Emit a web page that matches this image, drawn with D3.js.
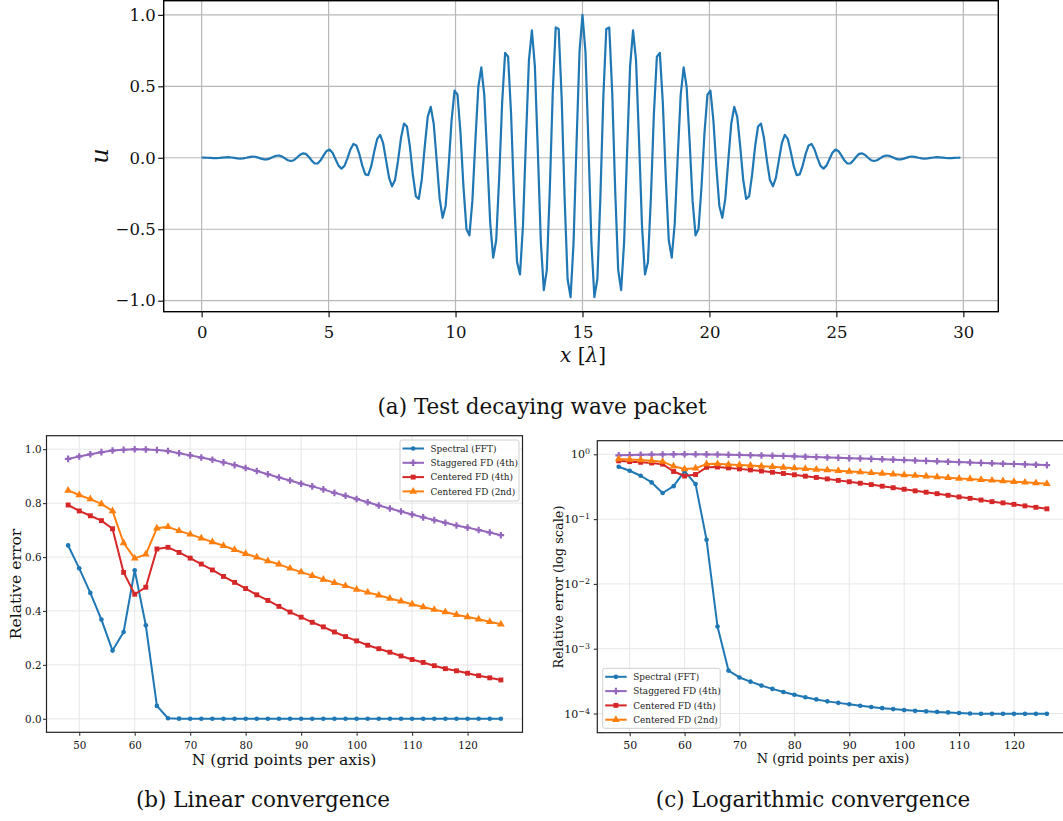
<!DOCTYPE html>
<html>
<head>
<meta charset="utf-8">
<script src="https://cdn.jsdelivr.net/npm/d3@7"></script>
<style>
  body { margin: 0; background: #fff; }
  svg { display: block; font-family: "DejaVu Serif", serif; }
</style>
</head>
<body>
<svg id="fig" width="1063" height="821"></svg>
<script>
// ---------- data: (a) wave packet, 256 samples on a uniform grid ----------
const waveDx = 30 / 256;
const waveU = [
  0.002, 0.001, 0.000, -0.001, -0.002, -0.002, -0.001, 0.001, 0.003, 0.004,
  0.002, -0.001, -0.004, -0.006, -0.004, 0.000, 0.005, 0.008, 0.007, 0.001,
  -0.006, -0.011, -0.011, -0.004, 0.006, 0.014, 0.016, 0.009, -0.004, -0.017,
  -0.023, -0.017, 0.000, 0.019, 0.031, 0.027, 0.007, -0.020, -0.040, -0.040,
  -0.018, 0.017, 0.048, 0.057, 0.035, -0.010, -0.055, -0.076, -0.057, -0.004,
  0.058, 0.097, 0.086, 0.027, -0.055, -0.116, -0.121, -0.059, 0.042, 0.132,
  0.160, 0.102, -0.018, -0.141, -0.200, -0.156, -0.022, 0.138, 0.239, 0.219,
  0.077, -0.120, -0.270, -0.287, -0.150, 0.081, 0.288, 0.356, 0.238, -0.019,
  -0.286, -0.420, -0.337, -0.066, 0.260, 0.470, 0.441, 0.174, -0.204, -0.498,
  -0.543, -0.300, 0.117, 0.497, 0.632, 0.438, 0.000, -0.461, -0.699, -0.577,
  -0.143, 0.386, 0.734, 0.707, 0.306, -0.274, -0.729, -0.816, -0.475, 0.128,
  0.681, 0.892, 0.639, 0.045, -0.587, -0.926, -0.786, -0.232, 0.453, 0.912,
  0.901, 0.420, -0.286, -0.850, -0.975, -0.594, 0.098, 0.741, 1.000,
  0.741, 0.098, -0.594, -0.975, -0.850, -0.286, 0.420, 0.901, 0.912, 0.453,
  -0.232, -0.786, -0.926, -0.587, 0.045, 0.639, 0.892, 0.681, 0.128, -0.475,
  -0.816, -0.729, -0.274, 0.306, 0.707, 0.734, 0.386, -0.143, -0.577, -0.699,
  -0.461, 0.000, 0.438, 0.632, 0.497, 0.117, -0.300, -0.543, -0.498, -0.204,
  0.174, 0.441, 0.470, 0.260, -0.066, -0.337, -0.420, -0.286, -0.019, 0.238,
  0.356, 0.288, 0.081, -0.150, -0.287, -0.270, -0.120, 0.077, 0.219, 0.239,
  0.138, -0.022, -0.156, -0.200, -0.141, -0.018, 0.102, 0.160, 0.132, 0.042,
  -0.059, -0.121, -0.116, -0.055, 0.027, 0.086, 0.097, 0.058, -0.004, -0.057,
  -0.076, -0.055, -0.010, 0.035, 0.057, 0.048, 0.017, -0.018, -0.040, -0.040,
  -0.020, 0.007, 0.027, 0.031, 0.019, 0.000, -0.017, -0.023, -0.017, -0.004,
  0.009, 0.016, 0.014, 0.006, -0.004, -0.011, -0.011, -0.006, 0.001, 0.007,
  0.008, 0.005, 0.000, -0.004, -0.006, -0.004, -0.001, 0.002, 0.004, 0.003,
  0.001, -0.001, -0.002, -0.002, -0.001, 0.000, 0.001
];
const waveXTicks = [0, 5, 10, 15, 20, 25, 30];
const waveYTicks = [-1, -0.5, 0, 0.5, 1];

// ---------- data: (b)/(c) convergence ----------
const gridN = [48, 50, 52, 54, 56, 58, 60, 62, 64, 66, 68, 70, 72, 74, 76, 78, 80, 82, 84, 86,
               88, 90, 92, 94, 96, 98, 100, 102, 104, 106, 108, 110, 112, 114, 116, 118, 120, 122, 124, 126];
const errSpectral = [0.643, 0.558, 0.467, 0.368, 0.253, 0.322, 0.551, 0.347, 0.048, 0.0022,
  4.6e-4, 3.6e-4, 3.1e-4, 2.7e-4, 2.4e-4, 2.15e-4, 1.95e-4, 1.78e-4, 1.65e-4, 1.54e-4,
  1.46e-4, 1.39e-4, 1.32e-4, 1.26e-4, 1.21e-4, 1.17e-4, 1.13e-4, 1.10e-4, 1.08e-4, 1.06e-4,
  1.04e-4, 1.02e-4, 1.0e-4, 0.99e-4, 0.99e-4, 0.99e-4, 0.99e-4, 0.99e-4, 0.99e-4, 0.99e-4];
const errStaggered4 = [0.964, 0.973, 0.981, 0.989, 0.995, 0.998, 1.000, 0.999, 0.997, 0.993,
  0.985, 0.977, 0.969, 0.961, 0.951, 0.941, 0.930, 0.919, 0.907, 0.895,
  0.884, 0.872, 0.862, 0.851, 0.838, 0.827, 0.815, 0.803, 0.791, 0.780,
  0.769, 0.758, 0.747, 0.737, 0.727, 0.717, 0.709, 0.700, 0.691, 0.681];
const errCentered4 = [0.793, 0.771, 0.753, 0.735, 0.705, 0.543, 0.462, 0.488, 0.630, 0.636,
  0.617, 0.596, 0.574, 0.552, 0.528, 0.506, 0.483, 0.460, 0.439, 0.417,
  0.396, 0.377, 0.358, 0.341, 0.322, 0.305, 0.289, 0.273, 0.260, 0.247,
  0.233, 0.220, 0.209, 0.197, 0.186, 0.178, 0.169, 0.160, 0.152, 0.144];
const errCentered2 = [0.847, 0.830, 0.815, 0.797, 0.771, 0.652, 0.595, 0.610, 0.707, 0.712,
  0.697, 0.684, 0.670, 0.656, 0.642, 0.627, 0.612, 0.599, 0.585, 0.573,
  0.558, 0.544, 0.531, 0.517, 0.505, 0.493, 0.480, 0.469, 0.458, 0.446,
  0.436, 0.425, 0.415, 0.405, 0.396, 0.386, 0.378, 0.369, 0.360, 0.351];
const seriesNames = ["Spectral (FFT)", "Staggered FD (4th)", "Centered FD (4th)", "Centered FD (2nd)"];
const nTicks = [50, 60, 70, 80, 90, 100, 110, 120];
const linTicks = [0, 0.2, 0.4, 0.6, 0.8, 1.0];
const logTicks = [1e-4, 1e-3, 1e-2, 1e-1, 1];

// styles
const seriesStyle = [
  { color: "#1f77b4", symbol: d3.symbolCircle, size: 17 },
  { color: "#9467bd", symbol: d3.symbolCross, size: 24 },
  { color: "#d62728", symbol: d3.symbolSquare, size: 24 },
  { color: "#ff7f0e", symbol: d3.symbolTriangle, size: 26 }
];
const series = [errSpectral, errStaggered4, errCentered4, errCentered2].map((vals, k) => ({
  name: seriesNames[k], values: vals, ...seriesStyle[k]
}));

const svg = d3.select("#fig");
svg.append("rect").attr("width", 1063).attr("height", 821).attr("fill", "#fff");

function styleAxis(ax, size, color) {
  ax.attr("font-size", null).attr("font-family", null);
  ax.select(".domain").remove();
  ax.selectAll(".tick line").attr("stroke", color).attr("stroke-width", 1.1);
  ax.selectAll(".tick text").attr("fill", "#111").attr("font-size", size);
}

// ================= (a) wave packet =================
(function () {
  const b = { left: 163.7, right: 998.3, top: 0.7, bottom: 311.7 };
  const x = d3.scaleLinear().domain([-1.494, 31.377]).range([b.left, b.right]);
  const y = d3.scaleLinear().domain([-1.077, 1.099]).range([b.bottom, b.top]);
  const g = svg.append("g");

  g.selectAll(".gx").data(waveXTicks).join("line")
    .attr("x1", d => x(d)).attr("x2", d => x(d)).attr("y1", b.top).attr("y2", b.bottom)
    .attr("stroke", "#b8b8b8").attr("stroke-width", 1.2);
  g.selectAll(".gy").data(waveYTicks).join("line")
    .attr("x1", b.left).attr("x2", b.right).attr("y1", d => y(d)).attr("y2", d => y(d))
    .attr("stroke", "#b8b8b8").attr("stroke-width", 1.2);

  g.append("path").datum(waveU)
    .attr("d", d3.line().x((d, i) => x(i * waveDx)).y(d => y(d)))
    .attr("fill", "none").attr("stroke", "#1f77b4").attr("stroke-width", 2.2)
    .attr("stroke-linejoin", "round");

  g.append("rect").attr("x", b.left).attr("y", b.top)
    .attr("width", b.right - b.left).attr("height", b.bottom - b.top)
    .attr("fill", "none").attr("stroke", "#000").attr("stroke-width", 1.4);

  g.append("g").attr("transform", `translate(0,${b.bottom})`)
    .call(d3.axisBottom(x).tickValues(waveXTicks).tickSize(5.5).tickPadding(8.8).tickFormat(d3.format("d")))
    .call(ax => styleAxis(ax, 16.5, "#000"));
  g.append("g").attr("transform", `translate(${b.left},0)`)
    .call(d3.axisLeft(y).tickValues(waveYTicks).tickSize(5.5).tickPadding(2.5).tickFormat(d3.format(".1f")))
    .call(ax => styleAxis(ax, 16.5, "#000"));

  const xl = g.append("text").attr("x", 583).attr("y", 362).attr("text-anchor", "middle")
    .attr("font-size", 20).attr("fill", "#111");
  xl.append("tspan").attr("font-style", "italic").text("x");
  xl.append("tspan").text(" [");
  xl.append("tspan").attr("font-style", "italic").text("λ");
  xl.append("tspan").text("]");

  g.append("text").attr("transform", "translate(108,156) rotate(-90)").attr("text-anchor", "middle")
    .attr("font-size", 24).attr("font-style", "italic").attr("fill", "#111").text("u");

  g.append("text").attr("x", 542).attr("y", 414).attr("text-anchor", "middle")
    .attr("font-size", 21.5).attr("fill", "#111").text("(a) Test decaying wave packet");
})();

// ================= (b)/(c) convergence =================
function drawConvergence(opt) {
  const b = opt.box;
  const x = d3.scaleLinear().domain([44.1, 129.9]).range([b.left, b.right]);
  const y = opt.y;
  const g = svg.append("g");

  g.selectAll(".gx").data(nTicks).join("line")
    .attr("x1", d => x(d)).attr("x2", d => x(d)).attr("y1", b.top).attr("y2", b.bottom)
    .attr("stroke", "#e6e6e6").attr("stroke-width", 1);
  g.selectAll(".gy").data(opt.yTicks).join("line")
    .attr("x1", b.left).attr("x2", b.right).attr("y1", d => y(d)).attr("y2", d => y(d))
    .attr("stroke", "#e6e6e6").attr("stroke-width", 1);

  const line = d3.line().x((d, i) => x(gridN[i])).y(d => y(d));
  series.forEach(s => {
    g.append("path").datum(s.values).attr("d", line)
      .attr("fill", "none").attr("stroke", s.color).attr("stroke-width", 2)
      .attr("stroke-linejoin", "round");
    g.selectAll(null).data(s.values).join("path")
      .attr("transform", (d, i) => `translate(${x(gridN[i])},${y(d)})`)
      .attr("d", d3.symbol().type(s.symbol).size(s.size))
      .attr("fill", s.color);
  });

  g.append("rect").attr("x", b.left).attr("y", b.top)
    .attr("width", b.right - b.left).attr("height", b.bottom - b.top)
    .attr("fill", "none").attr("stroke", "#222").attr("stroke-width", 1.2);

  g.append("g").attr("transform", `translate(0,${b.bottom})`)
    .call(d3.axisBottom(x).tickValues(nTicks).tickSize(3.5).tickPadding(opt.xPad).tickFormat(d3.format("d")))
    .call(ax => styleAxis(ax, opt.tickFont, "#333"));

  const yAx = g.append("g").attr("transform", `translate(${b.left},0)`)
    .call(d3.axisLeft(y).tickValues(opt.yTicks).tickSize(3.5).tickPadding(opt.yPad)
      .tickFormat(opt.log ? () => "" : d3.format(".1f")))
    .call(ax => styleAxis(ax, opt.tickFont, "#333"));
  if (opt.log) {
    yAx.selectAll(".tick text").each(function (d) {
      const t = d3.select(this);
      const e = Math.round(Math.log10(d));
      t.append("tspan").text("10");
      t.append("tspan").attr("dy", "-0.5em").attr("font-size", "0.72em")
        .text(e < 0 ? "\u2212" + (-e) : String(e));
    });
  }

  g.append("text").attr("x", opt.xLabel[0]).attr("y", opt.xLabel[1]).attr("text-anchor", "middle")
    .attr("font-size", opt.labelFont).attr("fill", "#111").text("N (grid points per axis)");
  g.append("text").attr("transform", `translate(${opt.yLabel[0]},${opt.yLabel[1]}) rotate(-90)`)
    .attr("text-anchor", "middle").attr("font-size", opt.labelFont).attr("fill", "#111").text(opt.yText);

  // legend
  const L = opt.legend;
  const lg = g.append("g");
  lg.append("rect").attr("x", L.x).attr("y", L.y).attr("width", L.w).attr("height", L.h)
    .attr("rx", 2).attr("fill", "#fff").attr("fill-opacity", 0.85)
    .attr("stroke", "#d0d0d0").attr("stroke-width", 1);
  series.forEach((s, k) => {
    const yy = L.y + 8.5 + k * 14.3;
    lg.append("line").attr("x1", L.x + 2.5).attr("x2", L.x + 24).attr("y1", yy).attr("y2", yy)
      .attr("stroke", s.color).attr("stroke-width", 2);
    lg.append("path").attr("transform", `translate(${L.x + 13.2},${yy})`)
      .attr("d", d3.symbol().type(s.symbol).size(s.size)).attr("fill", s.color);
    lg.append("text").attr("x", L.x + 30.5).attr("y", yy).attr("dy", "0.35em")
      .attr("font-size", 8.9).attr("fill", "#222").text(s.name);
  });

  g.append("text").attr("x", opt.caption[0]).attr("y", opt.caption[1]).attr("text-anchor", "middle")
    .attr("font-size", 21.5).attr("fill", "#111").text(opt.captionText);
}

const linBox = { left: 46.5, right: 522.5, top: 435.7, bottom: 732.3 };
drawConvergence({
  box: linBox,
  y: d3.scaleLinear().domain([-0.05, 1.05]).range([linBox.bottom, linBox.top]),
  yTicks: linTicks, log: false,
  tickFont: 10.3, xPad: 5.5, yPad: 1.5, labelFont: 15.6,
  xLabel: [284, 765], yLabel: [21, 584], yText: "Relative error",
  legend: { x: 400, y: 440, w: 119, h: 61 },
  caption: [263, 807], captionText: "(b) Linear convergence"
});

const logBox = { left: 597.3, right: 1068.3, top: 440.7, bottom: 732.7 };
drawConvergence({
  box: logBox,
  y: d3.scaleLog().domain([Math.pow(10, -4.296), Math.pow(10, 0.21)]).range([logBox.bottom, logBox.top]),
  yTicks: logTicks, log: true,
  tickFont: 11, xPad: 5, yPad: 3.8, labelFont: 12.9,
  xLabel: [833, 763], yLabel: [563, 587], yText: "Relative error (log scale)",
  legend: { x: 602.7, y: 668.3, w: 117.5, h: 60 },
  caption: [813, 807], captionText: "(c) Logarithmic convergence"
});
</script>
</body>
</html>
